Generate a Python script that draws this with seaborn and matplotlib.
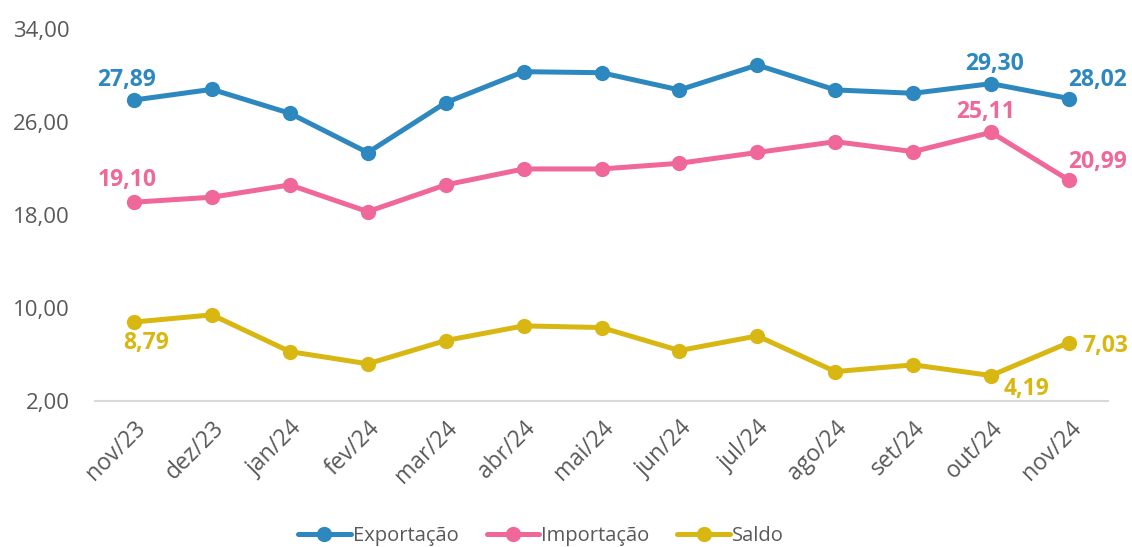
import matplotlib
matplotlib.use("Agg")
import matplotlib.pyplot as plt
import matplotlib.transforms as mtransforms
from matplotlib.lines import Line2D
from matplotlib.ticker import FixedLocator
import seaborn as sns
import pandas as pd

meses = ["nov/23", "dez/23", "jan/24", "fev/24", "mar/24", "abr/24", "mai/24",
         "jun/24", "jul/24", "ago/24", "set/24", "out/24", "nov/24"]
exportacao = [27.89, 28.81, 26.75, 23.37, 27.66, 30.33, 30.24, 28.76, 30.90, 28.76, 28.47, 29.30, 28.02]
importacao = [19.10, 19.53, 20.59, 18.29, 20.59, 21.96, 21.96, 22.45, 23.38, 24.31, 23.45, 25.11, 20.99]
saldo = [8.79, 9.41, 6.25, 5.20, 7.20, 8.46, 8.32, 6.34, 7.60, 4.53, 5.11, 4.19, 7.03]
series = ["Exportação", "Importação", "Saldo"]
yticks = [2, 10, 18, 26, 34]

cores = {"Exportação": "#2E88C0", "Importação": "#F0679A", "Saldo": "#D9B712"}

sns.set_theme(style="white")
plt.rcParams["font.family"] = ["Open Sans", "DejaVu Sans"]

df = pd.DataFrame({
    "mes": meses * 3,
    "valor": exportacao + importacao + saldo,
    "serie": [series[0]] * 13 + [series[1]] * 13 + [series[2]] * 13,
})

fig = plt.figure(figsize=(11.32, 5.47), dpi=100)
ax = fig.add_axes([95 / 1132, 1 - 401 / 547, (1108 - 95) / 1132, (401 - 29) / 547])

sns.lineplot(data=df, x="mes", y="valor", hue="serie", palette=cores, sort=False,
             marker="o", markersize=11, markeredgewidth=0, linewidth=3.6,
             ax=ax, legend=False)

ax.set_xlim(-0.5, len(meses) - 0.5)
ax.set_ylim(yticks[0], yticks[-1])
ax.set_yticks(yticks)
ax.set_yticklabels([f"{v:.2f}".replace(".", ",") for v in yticks])
ax.set_xticks(range(len(meses)))
ax.set_xticklabels(meses, rotation=45, ha="right", rotation_mode="anchor")
shift = mtransforms.ScaledTranslation(-5 / 100, -2 / 100, fig.dpi_scale_trans)
for lab in ax.get_xticklabels():
    lab.set_transform(lab.get_transform() + shift)
ax.xaxis.set_minor_locator(FixedLocator([i - 0.5 for i in range(len(meses) + 1)]))
ax.tick_params(axis="x", which="major", length=0, pad=11, labelsize=16.5, labelcolor="#595959")
ax.tick_params(axis="x", which="minor", length=9, width=1.2, color="#D9D9D9", direction="out")
ax.tick_params(axis="y", length=0, pad=18, labelsize=16, labelcolor="#595959")
ax.set_xlabel("")
ax.set_ylabel("")
for s in ["left", "right", "top"]:
    ax.spines[s].set_visible(False)
ax.spines["bottom"].set_color("#D9D9D9")
ax.spines["bottom"].set_linewidth(1.5)

def fmt(v):
    return f"{v:.2f}".replace(".", ",")

px = 0.72
rotulos = [
    (0, exportacao[0], "Exportação", (-7, 20)),
    (11, exportacao[11], "Exportação", (3, 20)),
    (12, exportacao[12], "Exportação", (29, 19)),
    (0, importacao[0], "Importação", (-7, 22)),
    (11, importacao[11], "Importação", (-6, 20)),
    (12, importacao[12], "Importação", (29, 18)),
    (0, saldo[0], "Saldo", (12, -21)),
    (11, saldo[11], "Saldo", (35, -13)),
    (12, saldo[12], "Saldo", (36, -3)),
]
for i, v, s, (dx, dy) in rotulos:
    ax.annotate(fmt(v), xy=(i, v), xytext=(dx * px, dy * px), textcoords="offset points",
                ha="center", va="center", fontsize=16.5, fontweight="bold",
                color=cores[s], annotation_clip=False)

handles = [Line2D([0], [0], color=cores[s], linewidth=3.6, marker="o", markersize=11,
                  markeredgewidth=0) for s in series]
fig.legend(handles, series, loc="center", bbox_to_anchor=(541 / 1132, 1 - 536 / 547),
           ncol=3, frameon=False, fontsize=14.5, labelcolor="#595959",
           handlelength=2.6, handletextpad=0.1, columnspacing=1.4)

fig.savefig("out.png", dpi=100)
